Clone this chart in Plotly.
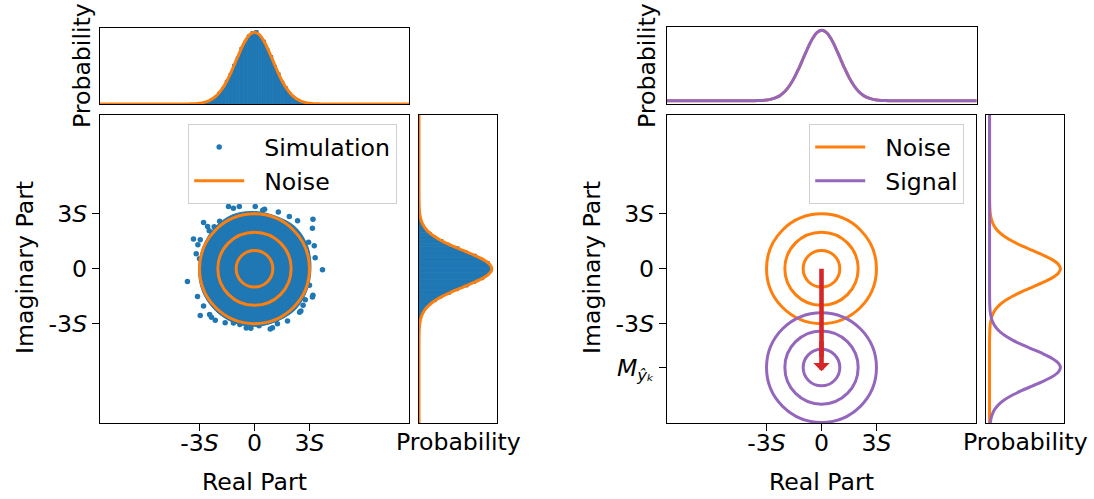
import plotly.graph_objects as go

# ---------------- data (units of S) ----------------
S = 1.0
noise_center = [0.0, 0.0]
M_signal = -5.4                       # signal mean on imaginary axis
circle_radii = [1.0, 2.0, 3.0]
tick_vals = [-3.0, 0.0, 3.0]
tick_text = ["-3<i>S</i>", "0", "3<i>S</i>"]

# simulation cloud: dense core outline + sparse outlying samples
core_x = [3.08, 2.91, 2.26, 1.19, 0.0, -1.22, -2.21, -2.82, -3.05, -2.86, -2.21, -1.21, 0.0, 1.19, 2.23, 2.86, 3.08]
core_y = [0.0, 1.21, 2.26, 2.86, 3.13, 2.94, 2.21, 1.17, 0.0, -1.19, -2.21, -2.91, -3.15, -2.88, -2.23, -1.19, 0.0]
sim_x = [-1.42, -1.15, -0.83, 0.04, 0.55, -2.78, -2.56, -2.47, -3.33, -2.96, -3.09, -3.18, -3.0, -3.66,
         -3.11, -2.78, -2.96, -2.45, -2.14, -1.60, -1.15, -0.80, -0.45, 0.25, 0.86, 0.98, 1.25, 1.80,
         2.46, 2.53, 2.65, 2.77, 3.16, 3.19, 3.0, 3.71, 3.31, 3.26, 2.95, 3.19, 3.16, 2.35, 1.9, 1.3,
         -1.9, -2.2, -2.35, 0.45, -0.2, 2.85]
sim_y = [3.40, 3.31, 3.40, 3.40, 3.25, 2.53, 2.31, 2.07, 1.62, 1.58, 1.31, 0.82, 0.55, -0.69,
         -1.51, -2.03, -2.55, -2.5, -2.82, -2.95, -2.96, -3.05, -3.24, -3.12, -3.29, -3.22, -3.0, -2.85,
         -2.38, -2.31, -2.0, -1.69, -1.54, -1.45, -0.9, -0.05, 0.6, 1.26, 1.45, 2.71, 2.22, 2.62, 2.85, 3.1,
         2.6, 2.3, -2.65, 3.2, -3.25, 0.9]

# histogram of simulation (bin centres, probability density)
hist_centers = [-3.9, -3.7, -3.5, -3.3, -3.1, -2.9, -2.7, -2.5, -2.3, -2.1, -1.9, -1.7, -1.5, -1.3,
                -1.1, -0.9, -0.7, -0.5, -0.3, -0.1, 0.1, 0.3, 0.5, 0.7, 0.9, 1.1, 1.3, 1.5, 1.7,
                1.9, 2.1, 2.3, 2.5, 2.7, 2.9, 3.1, 3.3, 3.5, 3.7, 3.9]
hist_real = [0.0003, 0.0005, 0.0010, 0.0018, 0.0035, 0.0062, 0.0110, 0.0170, 0.0290, 0.0430, 0.0680,
             0.0920, 0.1320, 0.1690, 0.2210, 0.2630, 0.3150, 0.3490, 0.3840, 0.4020, 0.4080, 0.3780,
             0.3550, 0.3080, 0.2690, 0.2150, 0.1740, 0.1280, 0.0960, 0.0650, 0.0450, 0.0270, 0.0180,
             0.0100, 0.0058, 0.0034, 0.0016, 0.0010, 0.0004, 0.0002]
hist_imag = [0.0002, 0.0004, 0.0008, 0.0019, 0.0031, 0.0063, 0.0100, 0.0180, 0.0275, 0.0445, 0.0650,
             0.0950, 0.1280, 0.1730, 0.2160, 0.2690, 0.3100, 0.3540, 0.3790, 0.3990, 0.3940, 0.3850,
             0.3480, 0.3140, 0.2630, 0.2200, 0.1690, 0.1320, 0.0930, 0.0670, 0.0430, 0.0285, 0.0170,
             0.0106, 0.0060, 0.0032, 0.0018, 0.0008, 0.0005, 0.0002]

# Gaussian pdf samples (offset from mean, density) for sigma = S
pdf_offsets = [-10.0, -4.5, -4.25, -4.0, -3.75, -3.5, -3.25, -3.0, -2.75, -2.5, -2.25, -2.0, -1.75, -1.5,
               -1.25, -1.0, -0.75, -0.5, -0.25, 0.0, 0.25, 0.5, 0.75, 1.0, 1.25, 1.5, 1.75, 2.0,
               2.25, 2.5, 2.75, 3.0, 3.25, 3.5, 3.75, 4.0, 4.25, 4.5, 15.0]
pdf_values = [0.0, 0.0000, 0.0000, 0.0001, 0.0004, 0.0009, 0.0020, 0.0044, 0.0091, 0.0175, 0.0317, 0.0540,
              0.0863, 0.1295, 0.1826, 0.2420, 0.3011, 0.3521, 0.3867, 0.3989, 0.3867, 0.3521, 0.3011,
              0.2420, 0.1826, 0.1295, 0.0863, 0.0540, 0.0317, 0.0175, 0.0091, 0.0044, 0.0020, 0.0009,
              0.0004, 0.0001, 0.0000, 0.0000, 0.0]

# ---------------- style ----------------
BLUE = "#1f77b4"
ORANGE = "#ff7f0e"
PURPLE = "#9467bd"
RED = "#d62728"
FONT = "DejaVu Sans"
FS = 23.6
W, H = 1094, 499
LIM = 8.43
ARROW_OVERHANG = 0.2      # arrow tip extends slightly past the mean (in S)
NB = "\u00a0\u00a0"


def fx(px):
    return px / W


def fy(py):
    return 1 - py / H


fig = go.Figure()

# ---- left main: simulation ----
fig.add_trace(go.Scatter(x=core_x, y=core_y, mode="lines", fill="toself", fillcolor=BLUE,
                         line=dict(color=BLUE, width=1, shape="spline"), showlegend=False,
                         hoverinfo="skip", xaxis="x", yaxis="y"))
fig.add_trace(go.Scatter(x=sim_x, y=sim_y, mode="markers", name=NB + "Simulation",
                         marker=dict(color=BLUE, size=5.5), xaxis="x", yaxis="y", legend="legend"))
fig.add_trace(go.Scatter(x=[None], y=[None], mode="lines", name=NB + "Noise",
                         line=dict(color=ORANGE, width=3), xaxis="x", yaxis="y", legend="legend"))

# left top marginal
fig.add_trace(go.Bar(x=hist_centers, y=hist_real, width=0.2,
                     marker=dict(color=BLUE, line=dict(color=BLUE, width=0.8)),
                     showlegend=False, xaxis="x2", yaxis="y2"))
fig.add_trace(go.Scatter(x=[noise_center[0] + o for o in pdf_offsets], y=pdf_values, mode="lines",
                         line=dict(color=ORANGE, width=3, shape="spline", smoothing=0.6),
                         showlegend=False, xaxis="x2", yaxis="y2"))
# left right marginal
fig.add_trace(go.Bar(y=hist_centers, x=hist_imag, width=0.2, orientation="h",
                     marker=dict(color=BLUE, line=dict(color=BLUE, width=0.8)),
                     showlegend=False, xaxis="x3", yaxis="y3"))
fig.add_trace(go.Scatter(y=[noise_center[1] + o for o in pdf_offsets], x=pdf_values, mode="lines",
                         line=dict(color=ORANGE, width=3, shape="spline", smoothing=0.6),
                         showlegend=False, xaxis="x3", yaxis="y3"))

# ---- right main: noise & signal ----
fig.add_trace(go.Scatter(x=[None], y=[None], mode="lines", name=NB + "Noise",
                         line=dict(color=ORANGE, width=3), xaxis="x4", yaxis="y4", legend="legend2"))
fig.add_trace(go.Scatter(x=[None], y=[None], mode="lines", name=NB + "Signal",
                         line=dict(color=PURPLE, width=3), xaxis="x4", yaxis="y4", legend="legend2"))
# arrow shaft from noise mean to signal mean
fig.add_trace(go.Scatter(x=[noise_center[0], noise_center[0]], y=[noise_center[1], M_signal + 0.6],
                         mode="lines", line=dict(color=RED, width=4.6), showlegend=False,
                         hoverinfo="skip", xaxis="x4", yaxis="y4"))
# right top marginal
fig.add_trace(go.Scatter(x=[noise_center[0] + o for o in pdf_offsets], y=pdf_values, mode="lines",
                         line=dict(color=ORANGE, width=3, shape="spline", smoothing=0.6),
                         showlegend=False, xaxis="x5", yaxis="y5"))
fig.add_trace(go.Scatter(x=[0.0 + o for o in pdf_offsets], y=pdf_values, mode="lines",
                         line=dict(color=PURPLE, width=3, shape="spline", smoothing=0.6),
                         showlegend=False, xaxis="x5", yaxis="y5"))
# right right marginal
fig.add_trace(go.Scatter(y=[noise_center[1] + o for o in pdf_offsets], x=pdf_values, mode="lines",
                         line=dict(color=ORANGE, width=3, shape="spline", smoothing=0.6),
                         showlegend=False, xaxis="x6", yaxis="y6"))
fig.add_trace(go.Scatter(y=[M_signal + o for o in pdf_offsets], x=pdf_values, mode="lines",
                         line=dict(color=PURPLE, width=3, shape="spline", smoothing=0.6),
                         showlegend=False, xaxis="x6", yaxis="y6"))

# circles
shapes = []
for r in circle_radii:
    shapes.append(dict(type="circle", xref="x", yref="y", x0=noise_center[0] - r, x1=noise_center[0] + r,
                       y0=noise_center[1] - r, y1=noise_center[1] + r, line=dict(color=ORANGE, width=3),
                       layer="above"))
    shapes.append(dict(type="circle", xref="x4", yref="y4", x0=noise_center[0] - r, x1=noise_center[0] + r,
                       y0=noise_center[1] - r, y1=noise_center[1] + r, line=dict(color=ORANGE, width=3),
                       layer="below"))
    shapes.append(dict(type="circle", xref="x4", yref="y4", x0=-r, x1=r,
                       y0=M_signal - r, y1=M_signal + r, line=dict(color=PURPLE, width=3), layer="below"))

annotations = [
    dict(x=0, y=M_signal - ARROW_OVERHANG, ax=0, ay=M_signal + 1.5, xref="x4", yref="y4", axref="x4",
         ayref="y4", showarrow=True, arrowhead=1, arrowsize=0.6, arrowwidth=4.6, arrowcolor=RED, text=""),
]


def label(text, x, y, angle=0):
    annotations.append(dict(text=text, x=fx(x), y=fy(y), xref="paper", yref="paper", showarrow=False,
                            textangle=angle, xanchor="center", yanchor="middle",
                            font=dict(family=FONT, size=FS, color="black")))


label("Imaginary Part", 25, 268, -90)
label("Imaginary Part", 592, 268, -90)
label("Probability", 82, 66, -90)
label("Probability", 647, 66, -90)
label("Real Part", 254.5, 482)
label("Real Part", 821.5, 482)
label("Probability", 458, 442)
label("Probability", 1025, 442)

axis_common = dict(showline=True, mirror=True, linecolor="black", linewidth=1.3, showgrid=False,
                   zeroline=False, tickfont=dict(family=FONT, size=FS, color="black"))
main_ax = dict(axis_common, ticks="outside", ticklen=7, tickwidth=1.2, tickcolor="black", tickmode="array")
marg_ax = dict(axis_common, ticks="", showticklabels=False)

ymain = [fy(423), fy(114.5)]
ytop = [fy(104), fy(27.5)]
pdf_peak = max(pdf_values)

fig.update_layout(
    width=W, height=H, margin=dict(l=0, r=0, t=0, b=0),
    paper_bgcolor="white", plot_bgcolor="white",
    font=dict(family=FONT, size=FS, color="black"),
    xaxis=dict(main_ax, domain=[fx(100), fx(409)], range=[-LIM, LIM], tickvals=tick_vals, ticktext=tick_text,
               anchor="y", ticklabelstandoff=-8),
    yaxis=dict(main_ax, domain=ymain, range=[-LIM, LIM], tickvals=tick_vals, ticktext=tick_text, anchor="x"),
    xaxis2=dict(marg_ax, domain=[fx(100), fx(409)], range=[-LIM, LIM], anchor="y2"),
    yaxis2=dict(marg_ax, domain=ytop, range=[0, pdf_peak * 1.065], anchor="x2"),
    xaxis3=dict(marg_ax, domain=[fx(419), fx(497)], range=[0, pdf_peak * 1.07], anchor="y3"),
    yaxis3=dict(marg_ax, domain=ymain, range=[-LIM, LIM], anchor="x3"),
    xaxis4=dict(main_ax, domain=[fx(667), fx(976)], range=[-LIM, LIM], tickvals=tick_vals, ticktext=tick_text,
                anchor="y4", ticklabelstandoff=-8),
    yaxis4=dict(main_ax, domain=ymain, range=[-LIM, LIM], tickvals=tick_vals + [M_signal],
                ticktext=tick_text + ["<i>M</i><sub><i>ŷₖ</i></sub>"], anchor="x4"),
    xaxis5=dict(marg_ax, domain=[fx(667), fx(976.5)], range=[-LIM, LIM], anchor="y5"),
    yaxis5=dict(marg_ax, domain=[fy(104.3), fy(26.7)], range=[-0.05 * pdf_peak, 1.05 * pdf_peak], anchor="x5"),
    xaxis6=dict(marg_ax, domain=[fx(986), fx(1064)], range=[-0.05 * pdf_peak, 1.05 * pdf_peak], anchor="y6"),
    yaxis6=dict(marg_ax, domain=ymain, range=[-LIM, LIM], anchor="x6"),
    shapes=shapes,
    annotations=annotations,
    legend=dict(x=fx(397), y=fy(124), xanchor="right", yanchor="top", bgcolor="rgba(255,255,255,0.8)",
                bordercolor="#d0d0d0", borderwidth=1.2, font=dict(family=FONT, size=FS), itemwidth=50),
    legend2=dict(x=fx(964), y=fy(124), xanchor="right", yanchor="top", bgcolor="rgba(255,255,255,0.8)",
                 bordercolor="#d0d0d0", borderwidth=1.2, font=dict(family=FONT, size=FS), itemwidth=50),
    showlegend=True,
)

fig.write_html("out.html", config={"displayModeBar": False},
               post_script="document.body.style.margin='0px';document.body.style.overflow='hidden';")
